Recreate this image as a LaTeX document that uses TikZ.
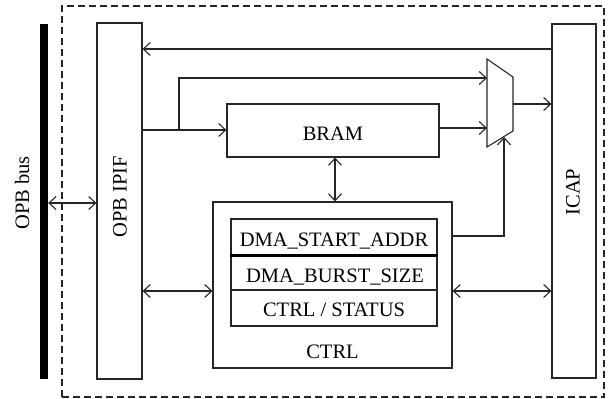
\documentclass[tikz,border=0pt]{standalone}
\usepackage{fontspec}
\setmainfont{Liberation Serif}
\usetikzlibrary{arrows.meta,calc}

\begin{document}
\begin{tikzpicture}[x=1pt,y=-1pt,
  wire/.style={line width=1.1pt,draw=black!85},
  arr/.style={wire,-{Straight Barb[length=7pt,width=13pt,line width=1.1pt]}},
  arrr/.style={wire,{Straight Barb[length=7pt,width=13pt,line width=1.1pt]}-{Straight Barb[length=7pt,width=13pt,line width=1.1pt]}},
  blockbox/.style={draw=black!85,line width=1.1pt,inner sep=0pt,minimum width=#1},
  rowbox/.style={draw=black!85,line width=1.1pt,inner sep=0pt,minimum width=206pt},
  lbl/.style={font=\fontsize{20.5}{24}\selectfont,inner sep=0pt}
]
\useasboundingbox (0,0) rectangle (608,399);

% FPGA boundary
\node[draw=black!85,line width=1.1pt,dash pattern=on 7pt off 4pt,inner sep=0pt,
      minimum width=542pt,minimum height=391pt] (fpga) at (333,201.5) {};

% OPB bus bar
\node[fill=black,inner sep=0pt,minimum width=8pt,minimum height=355pt] (bus) at (44,201.5) {};
\node[lbl,rotate=90] (bustxt) at (22,193) {OPB bus};

% OPB IPIF and ICAP columns
\node[blockbox=45pt,minimum height=356pt] (ipif) at (119.5,201) {};
\node[lbl,rotate=90] (ipiftxt) at (120,197) {OPB IPIF};
\node[blockbox=44pt,minimum height=354pt] (icap) at (574,201) {};
\node[lbl,rotate=90] (icaptxt) at (573,192) {ICAP};

% BRAM
\node[blockbox=212pt,minimum height=53pt] (bram) at (333,130.5) {};
\node[lbl,anchor=base] (bramtxt) at (333,140) {BRAM};

% CTRL with register table
\node[blockbox=239pt,minimum height=166pt] (ctrl) at (332.5,285) {};
\node[lbl,anchor=base] (ctrltxt) at (332.5,358) {CTRL};
\node[rowbox,minimum height=36pt] (r1) at (334,237) {};
\node[rowbox,minimum height=35pt] (r2) at (334,272.5) {};
\node[rowbox,minimum height=36pt] (r3) at (334,308) {};
\draw[line width=2.4pt] (r1.south west) -- (r1.south east);
\node[lbl,anchor=base] (r1txt) at (334,246) {DMA\_START\_ADDR};
\node[lbl,anchor=base] (r2txt) at (335,282) {DMA\_BURST\_SIZE};
\node[lbl,anchor=base] (r3txt) at (334,316) {CTRL / STATUS};

% multiplexer
\coordinate (m1) at (487,59);
\coordinate (m2) at (513,77);
\coordinate (m3) at (513,131);
\coordinate (m4) at (487,147);
\draw[wire,line join=miter] (m1) -- (m2) -- (m3) -- (m4) -- cycle;
\coordinate (in1) at (487,78);
\coordinate (in2) at (487,128);
\coordinate (mout) at (513,104);
\coordinate (sel) at (504,137);
\coordinate (split) at (179,130);

% connections
\draw[arrr] (bus.east |- 0,203) -- (ipif.west |- 0,203);
\draw[arr] (icap.west |- 0,49) -- (ipif.east |- 0,49);
\draw[arr] (ipif.east |- 0,130) -- (bram.west |- 0,130);
\draw[arr] (split) |- (in1);
\draw[arr] (bram.east |- 0,128) -- (in2);
\draw[arr] (mout) -- (icap.west |- mout);
\draw[arr] (ctrl.east |- 0,236) -| (sel);
\draw[arrr] (bram.south -| 335,0) -- (ctrl.north -| 335,0);
\draw[arrr] (ipif.east |- 0,291) -- (ctrl.west |- 0,291);
\draw[arrr] (ctrl.east |- 0,291) -- (icap.west |- 0,291);
\end{tikzpicture}
\end{document}
